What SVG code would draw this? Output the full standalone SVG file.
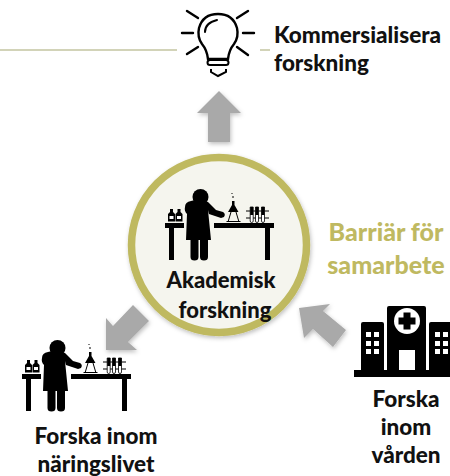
<svg xmlns="http://www.w3.org/2000/svg" width="450" height="476" viewBox="0 0 450 476">
<style>
text{font-family:Lato,"Liberation Sans",sans-serif;font-weight:900;fill:#111;text-anchor:middle}
.t{font-size:22.500px}
.c{font-size:22px}
.s{text-anchor:start}
.b{font-size:25px;fill:#bfb961}
.arrow{fill:#a9a9a9;filter:url(#sh)}
.ray{stroke:#000;stroke-width:2.400;stroke-linecap:round;fill:none}
.win{fill:#fff}
</style>
<defs>
<filter id="sh" x="-20%" y="-20%" width="140%" height="140%"><feDropShadow dx="1" dy="2" stdDeviation="2" flood-color="#000" flood-opacity=".25"/></filter>
<g id="scientist">
<path d="M165 223h19v5h-10v32h-5v-32h-4zM214 223h60v5h-4v32h-5v-32h-51z"/>
<circle cx="200.500" cy="197" r="8"/>
<path d="M185 207q0-5 6-6q10-3 17 1q4 4 8 8l7 2q3 2 1 5l-3 1l-12-4l-1-4l3 30h-25l1-26q-3-3-2-7z"/>
<path d="M190.500 239h8v18q0 3.500-4 3.500t-4-3.500zM200 239h8v18q0 3.500-4 3.500t-4-3.500z"/>
<path d="M170 209h3v3l2 2v7.500h-7v-7.500l2-2zM177.500 209h3v3l2 2v7.500h-7v-7.500l2-2z"/>
<path d="M169.500 216h4v3h-4zM177 216h4v3h-4z" fill="#fff"/>
<path d="M232 201h2.500v4l4 7h-10.500l4-7z"/>
<path d="M228 222l3-10M239 222l-3-10M226.500 221.500h14M233 198v-2M232 194v-1" stroke="#000" stroke-width="1" fill="none"/>
<path d="M246 211h23M246 218h23" stroke="#000" stroke-width="1"/>
<path d="M250.200 207h3v14q0 1.500-1.500 1.500t-1.500-1.500zM255.500 207h3v14q0 1.500-1.500 1.500t-1.500-1.500zM261.500 207h3v14q0 1.500-1.500 1.500t-1.500-1.500z" fill="#fff" stroke="#000" stroke-width=".8"/>
<path d="M250.200 207h3v8h-3zM255.500 207h3v8h-3zM261.500 207h3v8h-3z"/>
</g>
</defs>
<g id="connectors">
<path d="M0 50H177M260 50H270" stroke="#d2d3b8" stroke-width="2" fill="none"/>
<path class="arrow" d="M219 91L241 113H230V142H208V113H197Z"/>
<path class="arrow" d="M106 350V318L113 326L133 305L149 321L128 342L137 350Z"/>
<path class="arrow" d="M299 308L330 304L323 311L346 330L333 347L313 329L304 338Z"/>
</g>
<g id="node-idea">
<path class="ray" d="M187 11L198 18M182 33H193M187 54L198 47M248 11L237 18M243 33H254M248 55L237 47"/>
<path d="M208 59Q207 50 202 44Q197 37 199 28Q203 14 218 14Q233 14 237 28Q239 37 234 44Q229 50 228 59Z" fill="none" stroke="#000" stroke-width="2.400"/>
<path d="M205 32Q205 23 217 20" fill="none" stroke="#000" stroke-width="2" stroke-linecap="round"/>
<rect x="207.500" y="60" width="21" height="5" rx="2.500" fill="none" stroke="#000" stroke-width="2"/>
<path d="M211 69v3l7 4l8-4v-3" fill="none" stroke="#000" stroke-width="2"/>
<text class="t s" x="274" y="43">Kommersialisera</text>
<text class="t s" x="274" y="71">forskning</text>
</g>
<g id="node-academic">
<circle cx="219" cy="245" r="87.500" fill="#f5f5ee" stroke="#bfb961" stroke-width="7.500" filter="url(#sh)"/>
<use href="#scientist"/>
<text class="c" x="221" y="288">Akademisk</text>
<text class="c" x="225" y="318">forskning</text>
</g>
<g id="node-barrier">
<text class="b" x="386" y="241">Barriär för</text>
<text class="b" x="386" y="274">samarbete</text>
</g>
<g id="node-industry">
<use href="#scientist" transform="translate(-143 151)"/>
<text class="t" x="96" y="444">Forska inom</text>
<text class="t" x="96" y="472">näringslivet</text>
</g>
<g id="node-care">
<rect x="354" y="370" width="96" height="7"/>
<path d="M361 371v-47q0-2 2-2h19q2 0 2 2v47zM387 371v-63q0-2 2-2h35q2 0 2 2v63zM429 371v-47q0-2 2-2h19v49z"/>
<circle cx="407" cy="321" r="13" fill="#fff"/>
<path d="M403.500 312.500h7v5h5v7h-5v5h-7v-5h-5v-7h5z"/>
<rect class="win" x="399" y="350" width="16" height="20"/>
<path class="win" d="M366 332h5v5h-5zM374 332h5v5h-5zM366 341h5v5h-5zM374 341h5v5h-5zM366 349h5v5h-5zM374 349h5v5h-5zM435 332h5v5h-5zM443 332h5v5h-5zM435 341h5v5h-5zM443 341h5v5h-5zM435 349h5v5h-5zM443 349h5v5h-5z"/>
<text class="t" x="406" y="407">Forska</text>
<text class="t" x="406" y="435">inom</text>
<text class="t" x="406" y="463">vården</text>
</g>
</svg>
